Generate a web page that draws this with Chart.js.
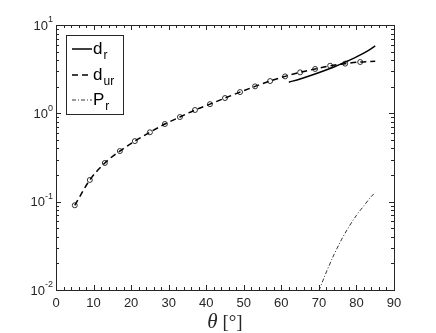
<!DOCTYPE html>
<html>
<head>
<meta charset="utf-8">
<script src="https://cdn.jsdelivr.net/npm/chart.js@4.4.1/dist/chart.umd.min.js"></script>
<style>
  html, body { margin: 0; padding: 0; background: #fff; }
  #wrap { width: 436px; height: 333px; }
</style>
</head>
<body>
<div id="wrap"><canvas id="myChart" width="436" height="333"></canvas></div>
<script>
// dati
const thetaMarks = [5, 9, 13, 17, 21, 25, 29, 33, 37, 41, 45, 49, 53, 57, 61, 65, 69, 73, 77, 81];
const durMarks = [0.091, 0.176, 0.274, 0.374, 0.485, 0.61, 0.757, 0.908, 1.09, 1.27, 1.49, 1.74, 2.02, 2.32, 2.62, 2.91, 3.18, 3.46, 3.65, 3.81];

const thetaDur = [5, 9, 13, 17, 21, 25, 29, 33, 37, 41, 45, 49, 53, 57, 61, 65, 69, 73, 77, 81, 85];
const durLine = [0.091, 0.176, 0.274, 0.374, 0.485, 0.61, 0.757, 0.908, 1.09, 1.27, 1.49, 1.74, 2.02, 2.32, 2.62, 2.91, 3.18, 3.46, 3.65, 3.81, 3.88];

const thetaDr = [62, 65, 68, 71, 74, 77, 80, 83, 85];
const drLine = [2.25, 2.45, 2.7, 3.0, 3.35, 3.8, 4.35, 5.1, 5.8];

const thetaPr = [70, 72, 74, 76, 78, 80, 82, 84, 85];
const prLine = [0.0098, 0.016, 0.025, 0.037, 0.052, 0.07, 0.09, 0.115, 0.127];

const xTicks = [0, 10, 20, 30, 40, 50, 60, 70, 80, 90];
const yTicks = [0.01, 0.1, 1, 10];
const yExp = ["-2", "-1", "0", "1"];

const axisColor = "#262626";

const toPts = function (xs, ys) {
  return xs.map((x, i) => ({ x: x, y: ys[i] }));
};

// assi, tacche, etichette e legenda disegnati a mano (stile matlab)
const frame = {
  id: "frame",
  afterDraw(chart) {
    const ctx = chart.ctx;
    const a = chart.chartArea;
    const xs = chart.scales.x;
    const ys = chart.scales.y;
    ctx.save();
    ctx.strokeStyle = axisColor;
    ctx.lineWidth = 1;
    ctx.strokeRect(Math.round(a.left) + 0.5, Math.round(a.top) + 0.5, Math.round(a.right - a.left), Math.round(a.bottom - a.top));

    ctx.beginPath();
    // tacche x (maggiori ogni 10, minori ogni 2)
    for (let v = 0; v <= 90; v += 2) {
      const px = Math.round(xs.getPixelForValue(v)) + 0.5;
      const len = v % 10 === 0 ? 5 : 3;
      ctx.moveTo(px, a.bottom); ctx.lineTo(px, a.bottom - len);
      ctx.moveTo(px, a.top); ctx.lineTo(px, a.top + len);
    }
    // tacche y log
    for (let d = -2; d <= 0; d++) {
      for (let m = 1; m <= 9; m++) {
        const v = m * Math.pow(10, d);
        const py = Math.round(ys.getPixelForValue(v)) + 0.5;
        const len = m === 1 ? 5 : 3;
        ctx.moveTo(a.left, py); ctx.lineTo(a.left + len, py);
        ctx.moveTo(a.right, py); ctx.lineTo(a.right - len, py);
      }
    }
    const pTop = Math.round(ys.getPixelForValue(10)) + 0.5;
    ctx.moveTo(a.left, pTop); ctx.lineTo(a.left + 5, pTop);
    ctx.moveTo(a.right, pTop); ctx.lineTo(a.right - 5, pTop);
    ctx.stroke();

    // etichette x
    ctx.fillStyle = axisColor;
    ctx.font = "13px 'Liberation Sans', Arial, sans-serif";
    ctx.textAlign = "center";
    ctx.textBaseline = "middle";
    xTicks.forEach(v => {
      ctx.fillText(String(v), xs.getPixelForValue(v), a.bottom + 13);
    });

    // etichette y con esponente
    ctx.textAlign = "left";
    yTicks.forEach((v, i) => {
      const py = ys.getPixelForValue(v);
      ctx.font = "13px 'Liberation Sans', Arial, sans-serif";
      const w1 = ctx.measureText("10").width;
      ctx.font = "9px 'Liberation Sans', Arial, sans-serif";
      const w2 = ctx.measureText(yExp[i]).width;
      const x0 = a.left - 3 - w1 - w2;
      ctx.font = "13px 'Liberation Sans', Arial, sans-serif";
      ctx.fillText("10", x0, py + 1);
      ctx.font = "9px 'Liberation Sans', Arial, sans-serif";
      ctx.fillText(yExp[i], x0 + w1, py - 5);
    });

    // titolo asse x
    ctx.textBaseline = "alphabetic";
    ctx.font = "italic 21px 'Liberation Serif', 'Times New Roman', serif";
    const tw = ctx.measureText("\u03b8").width;
    ctx.font = "19px 'Liberation Serif', 'Times New Roman', serif";
    const bw = ctx.measureText(" [\u00b0]").width;
    const cx = (a.left + a.right) / 2 - (tw + bw) / 2;
    ctx.font = "italic 21px 'Liberation Serif', 'Times New Roman', serif";
    ctx.fillText("\u03b8", cx, 328);
    ctx.font = "19px 'Liberation Serif', 'Times New Roman', serif";
    ctx.fillText(" [\u00b0]", cx + tw, 328);

    // legenda
    const lx = 66, ly = 35, lw = 57, lh = 79;
    ctx.fillStyle = "#fff";
    ctx.fillRect(lx, ly, lw, lh);
    ctx.strokeStyle = axisColor;
    ctx.lineWidth = 1;
    ctx.strokeRect(lx + 0.5, ly + 0.5, lw, lh);
    const items = [
      { main: "d", sub: "r", dash: [], width: 1.5, y: 49 },
      { main: "d", sub: "ur", dash: [6, 4], width: 1.5, y: 75 },
      { main: "P", sub: "r", dash: [4, 2, 1, 2], width: 0.8, y: 100 }
    ];
    items.forEach(it => {
      ctx.strokeStyle = "#000";
      ctx.lineWidth = it.width;
      ctx.setLineDash(it.dash);
      ctx.beginPath();
      ctx.moveTo(72, it.y); ctx.lineTo(92, it.y);
      ctx.stroke();
      ctx.setLineDash([]);
      ctx.fillStyle = "#000";
      ctx.textBaseline = "alphabetic";
      ctx.font = "17px 'Liberation Sans', Arial, sans-serif";
      ctx.fillText(it.main, 93, it.y + 5);
      const mw = ctx.measureText(it.main).width;
      ctx.font = "12px 'Liberation Sans', Arial, sans-serif";
      ctx.fillText(it.sub, 93 + mw + 1, it.y + 10);
    });
    ctx.restore();
  }
};

const chart = function () {
  const ctx = document.getElementById("myChart");
  new Chart(ctx, {
    type: "line",
    data: {
      datasets: [
        {
          label: "d_r",
          data: toPts(thetaDr, drLine),
          borderColor: "#000",
          borderWidth: 1.5,
          pointRadius: 0,
          cubicInterpolationMode: "monotone",
          fill: false
        },
        {
          label: "d_ur",
          data: toPts(thetaDur, durLine),
          borderColor: "#000",
          borderWidth: 1.5,
          borderDash: [6, 4],
          pointRadius: 0,
          cubicInterpolationMode: "monotone",
          fill: false
        },
        {
          label: "P_r",
          data: toPts(thetaPr, prLine),
          borderColor: "#000",
          borderWidth: 0.8,
          borderDash: [4, 2, 1, 2],
          pointRadius: 0,
          cubicInterpolationMode: "monotone",
          fill: false
        },
        {
          label: "marks",
          data: toPts(thetaMarks, durMarks),
          showLine: false,
          borderColor: "#000",
          backgroundColor: "rgba(0,0,0,0)",
          pointStyle: "circle",
          pointRadius: 2.5,
          pointBorderWidth: 0.8,
          pointBorderColor: "#000"
        }
      ]
    },
    options: {
      responsive: false,
      animation: false,
      layout: { padding: { left: 56, top: 25, right: 42, bottom: 43 } },
      scales: {
        x: { type: "linear", min: 0, max: 90, display: false },
        y: { type: "logarithmic", min: 0.01, max: 10, display: false }
      },
      plugins: {
        legend: { display: false },
        tooltip: { enabled: false }
      }
    },
    plugins: [frame]
  });
};
chart();
</script>
</body>
</html>
